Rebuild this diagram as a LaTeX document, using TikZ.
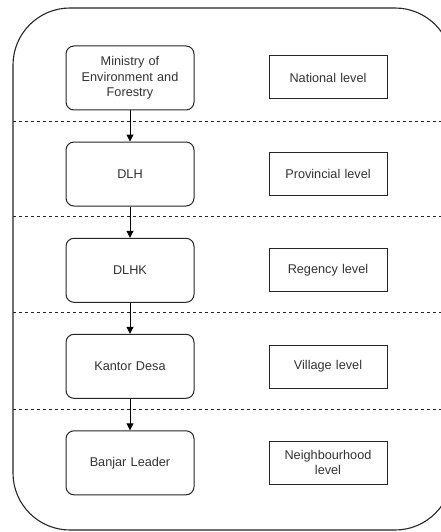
\documentclass[tikz,border=0pt]{standalone}
\usepackage{fontspec}
\setmainfont{Liberation Sans}
\usetikzlibrary{arrows.meta}
\definecolor{txt}{HTML}{333333}
\begin{document}
\begin{tikzpicture}[x=1pt,y=-1pt,
  orgbox/.style={draw=black!85,line width=1pt,rounded corners=8pt,minimum width=128pt,minimum height=64pt,inner sep=0pt,align=center,text width=118pt,text=txt,font=\fontsize{12.7}{15.5}\selectfont},
  lvlbox/.style={draw=black!85,line width=1pt,minimum width=118pt,minimum height=43pt,inner sep=0pt,align=center,text width=110pt,text=txt,font=\fontsize{12.7}{15.5}\selectfont},
  sep/.style={draw=black!85,line width=0.9pt,dash pattern=on 3pt off 3pt},
  conn/.style={draw=black,line width=1pt,-{Triangle[length=7pt,width=7pt]}}]
\useasboundingbox (0,0) rectangle (441,532);
\clip (0,0) rectangle (441,532);
\fill[white] (0,0) rectangle (441,532);
\draw[black!85,line width=1.1pt,rounded corners=57pt] (13,8) rectangle (452,530);
\foreach \yy in {121,216.5,312.5,409} {\draw[sep] (13,\yy) -- (441,\yy);}
\node[orgbox] (m) at (130,78) {Ministry of\\Environment and\\Forestry};
\node[orgbox] (d) at (130,174) {DLH};
\node[orgbox] (k) at (130,270.3) {DLHK};
\node[orgbox] (v) at (130,366.3) {Kantor Desa};
\node[orgbox] (b) at (130,462.8) {Banjar Leader};
\node[lvlbox] (l1) at (328,77.5) {National level};
\node[lvlbox] (l2) at (328,174) {Provincial level};
\node[lvlbox] (l3) at (328,270) {Regency level};
\node[lvlbox] (l4) at (328,366.5) {Village level};
\node[lvlbox] (l5) at (328,462.7) {Neighbourhood\\level};
\draw[conn] (m) -- (d);
\draw[conn] (d) -- (k);
\draw[conn] (k) -- (v);
\draw[conn] (v) -- (b);
\end{tikzpicture}
\end{document}
